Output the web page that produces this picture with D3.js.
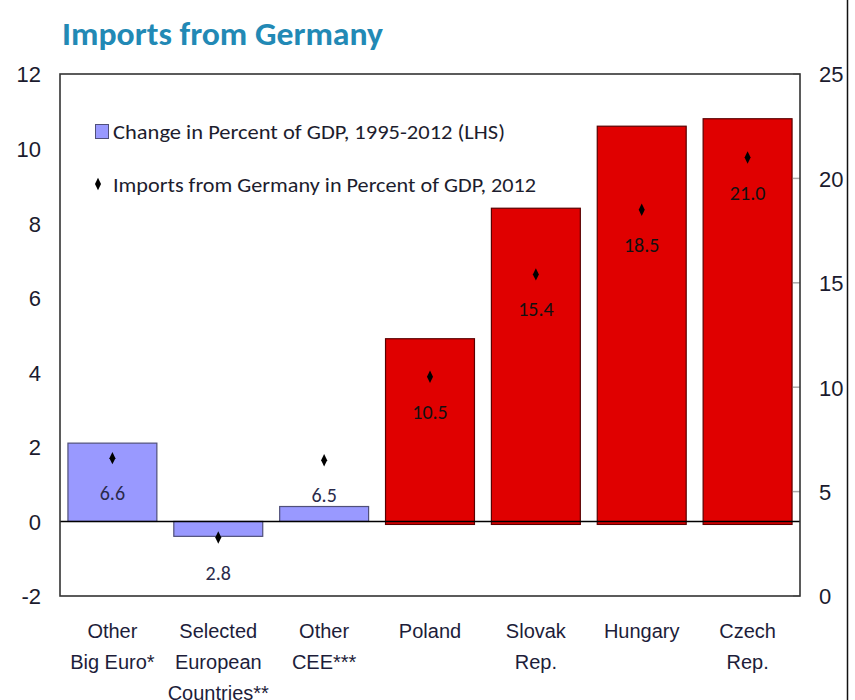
<!DOCTYPE html>
<html>
<head>
<meta charset="utf-8">
<script src="https://cdn.jsdelivr.net/npm/d3@7"></script>
<style>
  body { margin: 0; background: #fff; }
  svg { display: block; }
</style>
</head>
<body>
<svg id="chart" width="855" height="700"></svg>
<script>
// data
var categories = ["Other Big Euro", "Selected European", "Other CEE", "Poland", "Slovak Rep.", "Hungary", "Czech Rep."];
var catLines = [["Other", "Big Euro*"], ["Selected", "European", "Countries**"], ["Other", "CEE***"],
                ["Poland"], ["Slovak", "Rep."], ["Hungary"], ["Czech", "Rep."]];
var changeGDP = [2.1, -0.4, 0.4, 4.9, 8.4, 10.6, 10.8];      // LHS, bars
var imports2012 = [6.6, 2.8, 6.5, 10.5, 15.4, 18.5, 21.0];   // RHS, diamonds
var groups = ["other", "other", "other", "cee", "cee", "cee", "cee"];
var leftTicks = [-2, 0, 2, 4, 6, 8, 10, 12];
var rightTicks = [0, 5, 10, 15, 20, 25];

var narrow = "'Liberation Sans Narrow', 'Arial Narrow', 'Liberation Sans', Arial, sans-serif";
var calib = "Carlito, Lato, sans-serif";

var svg = d3.select("#chart");

// plot box (don't call it "top", that's window.top)
var pL = 60, pR = 800, pT = 74, pB = 596;

var x = d3.scaleBand()
    .domain(categories)
    .range([pL, pR])
    .paddingInner(0.16)
    .paddingOuter(0.075);

var y = d3.scaleLinear().domain([-2, 12]).range([pB, pT]);
var y2 = d3.scaleLinear().domain([0, 25]).range([pB, pT]);

var fill = d3.scaleOrdinal().domain(["other", "cee"]).range(["#9999ff", "#e00000"]);
var edge = d3.scaleOrdinal().domain(["other", "cee"]).range(["#50507a", "#5a0000"]);

// title
svg.append("text")
    .attr("x", 62).attr("y", 45)
    .attr("font-family", calib)
    .attr("font-weight", "bold")
    .attr("font-size", 33)
    .attr("fill", "#2289b5")
    .attr("textLength", 321)
    .attr("lengthAdjust", "spacingAndGlyphs")
    .text("Imports from Germany");

// outer frame line on the far right
svg.append("line")
    .attr("x1", 847.5).attr("x2", 847.5).attr("y1", 0).attr("y2", 700)
    .attr("stroke", "#111").attr("stroke-width", 1.5);

// right-axis tick marks inside the plot
svg.append("g").selectAll("line")
  .data(rightTicks)
  .enter().append("line")
    .attr("x1", pR - 7).attr("x2", pR)
    .attr("y1", function(d) { return y2(d); })
    .attr("y2", function(d) { return y2(d); })
    .attr("stroke", "#aaa").attr("stroke-width", 1.5);

// bars
svg.append("g").selectAll("rect")
  .data(changeGDP)
  .enter().append("rect")
    .attr("x", function(d, i) { return x(categories[i]); })
    .attr("width", x.bandwidth())
    .attr("y", function(d) { return y(Math.max(0, d)); })
    .attr("height", function(d, i) { return Math.abs(y(d) - y(0)) + (groups[i] == "cee" ? 3 : 0); })
    .attr("fill", function(d, i) { return fill(groups[i]); })
    .attr("stroke", function(d, i) { return edge(groups[i]); })
    .attr("stroke-width", 1.2);

// zero line
svg.append("line")
    .attr("x1", pL).attr("x2", pR)
    .attr("y1", y(0)).attr("y2", y(0))
    .attr("stroke", "#000").attr("stroke-width", 1.6);

// plot box
svg.append("rect")
    .attr("x", pL).attr("y", pT)
    .attr("width", pR - pL).attr("height", pB - pT)
    .attr("fill", "none")
    .attr("stroke", "#333").attr("stroke-width", 1.6);

// diamonds + value labels
var diamond = d3.symbol().type(d3.symbolDiamond).size(44);
var pts = svg.append("g");
pts.selectAll("path")
  .data(imports2012)
  .enter().append("path")
    .attr("d", diamond)
    .attr("transform", function(d, i) {
      return "translate(" + (x(categories[i]) + x.bandwidth() / 2) + "," + y2(d) + ") scale(0.85,1)";
    })
    .attr("fill", "#000");

pts.selectAll("text")
  .data(imports2012)
  .enter().append("text")
    .attr("x", function(d, i) { return x(categories[i]) + x.bandwidth() / 2; })
    .attr("y", function(d) { return y2(d) + 42; })
    .attr("text-anchor", "middle")
    .attr("font-family", calib)
    .attr("font-size", 20)
    .attr("fill", function(d, i) { return groups[i] == "cee" ? "#111" : "#2a2a4a"; })
    .text(function(d) { return d.toFixed(1); });

// left axis (plain hyphen for negatives, like the original)
var yAxis = d3.axisLeft(y).tickValues(leftTicks).tickSize(0).tickPadding(19)
    .tickFormat(function(d) { return String(d); });
var gy = svg.append("g").attr("transform", "translate(" + pL + ",0)").call(yAxis);
gy.select(".domain").remove();
gy.selectAll("text")
    .attr("font-family", narrow)
    .attr("font-size", 22)
    .attr("fill", "#1b1b2e")
    .attr("dy", "0.36em");

// right axis
var yAxis2 = d3.axisRight(y2).tickValues(rightTicks).tickSize(0).tickPadding(19)
    .tickFormat(function(d) { return String(d); });
var gy2 = svg.append("g").attr("transform", "translate(" + pR + ",0)").call(yAxis2);
gy2.select(".domain").remove();
gy2.selectAll("text")
    .attr("font-family", narrow)
    .attr("font-size", 22)
    .attr("fill", "#1b1b2e")
    .attr("dy", "0.36em");

// category labels
var cats = svg.append("g").selectAll("text")
  .data(catLines)
  .enter().append("text")
    .attr("text-anchor", "middle")
    .attr("font-family", narrow)
    .attr("font-size", 20)
    .attr("fill", "#1d1d3a");
cats.selectAll("tspan")
  .data(function(d, i) { return d.map(function(s) { return {s: s, i: i}; }); })
  .enter().append("tspan")
    .attr("x", function(d) { return x(categories[d.i]) + x.bandwidth() / 2; })
    .attr("y", function(d, j) { return 638 + j * 31; })
    .text(function(d) { return d.s; });

// legend
var leg = svg.append("g");
leg.append("rect")
    .attr("x", 95.5).attr("y", 124.5).attr("width", 13).attr("height", 14)
    .attr("fill", "#9999ff").attr("stroke", "#50507a").attr("stroke-width", 1);
leg.append("text")
    .attr("x", 113).attr("y", 139)
    .attr("font-family", calib).attr("font-size", 20).attr("fill", "#1d1d2e")
    .attr("textLength", 392).attr("lengthAdjust", "spacingAndGlyphs")
    .text("Change in Percent of GDP, 1995-2012 (LHS)");
leg.append("path")
    .attr("d", diamond)
    .attr("transform", "translate(98,184) scale(0.85,1)")
    .attr("fill", "#000");
leg.append("text")
    .attr("x", 113).attr("y", 192)
    .attr("font-family", calib).attr("font-size", 20).attr("fill", "#1d1d2e")
    .attr("textLength", 423).attr("lengthAdjust", "spacingAndGlyphs")
    .text("Imports from Germany in Percent of GDP, 2012");
</script>
</body>
</html>
